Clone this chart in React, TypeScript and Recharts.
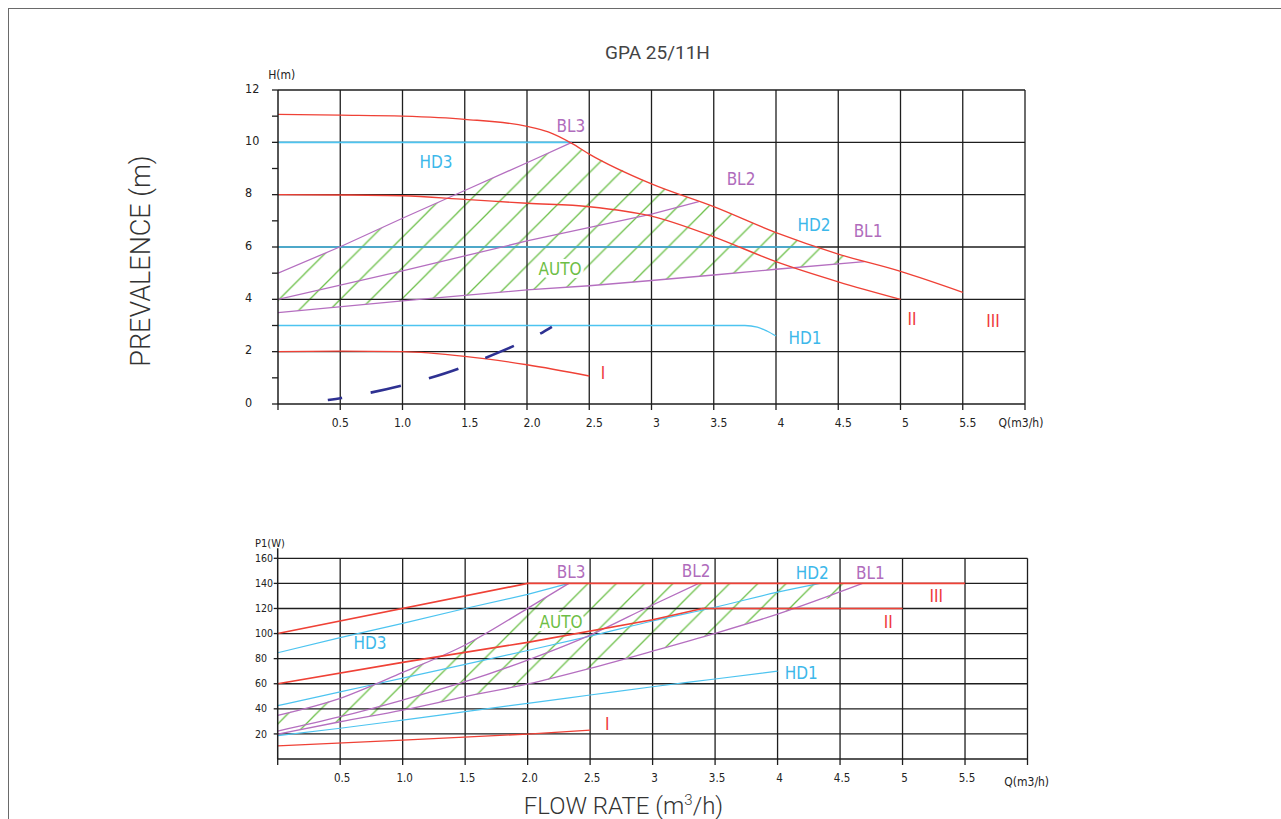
import React from 'react';
import { ComposedChart, Line, Area, XAxis, YAxis, ReferenceLine, ReferenceDot } from 'recharts';

// ---------- axes ----------
const qTicks = [0, 0.5, 1, 1.5, 2, 2.5, 3, 3.5, 4, 4.5, 5, 5.5, 6];
const qTopLabels = ['', '0.5', '1.0', '1.5', '2.0', '2.5', '3', '3.5', '4', '4.5', '5', '5.5', ''];
const qBottomLabels = ['', '0.5', '1.0', '1.5', '2.0', '2.5', '3', '3.5', '4', '4.5', '5', '5.5', ''];
const qGrid = [0.5, 1, 1.5, 2, 2.5, 3, 3.5, 4, 4.5, 5, 5.5, 6];
const hTicks = [0, 1, 2, 3, 4, 5, 6, 7, 8, 9, 10, 11, 12];
const hLabelled = [0, 2, 4, 6, 8, 10, 12];
const hGrid = [2, 4, 6, 8, 10, 12];
const pTicks = [20, 40, 60, 80, 100, 120, 140, 160];
const pGrid = [20, 40, 60, 80, 100, 120, 140, 160];

// ---------- head curves H(m) vs Q ----------
const hIIIq = [0, 0.5, 1, 1.5, 2, 2.17, 2.36, 2.5, 3, 3.5, 4, 4.5, 5, 5.5];
const hIIIv = [11.07, 11.04, 11.0, 10.88, 10.61, 10.4, 9.96, 9.55, 8.41, 7.54, 6.55, 5.73, 5.07, 4.27];
const hIIq = [0, 0.5, 1, 1.5, 2, 2.5, 3, 3.5, 4, 4.5, 5];
const hIIv = [8.0, 7.99, 7.96, 7.82, 7.67, 7.54, 7.18, 6.39, 5.44, 4.67, 4.0];
const hIq = [0, 0.5, 1, 1.5, 2, 2.5];
const hIv = [2.0, 2.02, 2.0, 1.82, 1.5, 1.07];
const hHD3q = [0, 2.36];
const hHD3v = [10, 10];
const hHD2q = [0, 4.33];
const hHD2v = [6, 6];
const hHD1q = [0, 3.75, 3.85, 3.93, 4.0];
const hHD1v = [3.0, 3.0, 2.94, 2.78, 2.6];
const hBL3q = [0, 0.5, 1, 1.5, 2, 2.36];
const hBL3v = [5.0, 6.01, 7.1, 8.16, 9.22, 10.0];
const hBL2q = [0, 1, 2, 3, 3.38];
const hBL2v = [4.0, 5.09, 6.23, 7.26, 7.73];
const hBL1q = [0, 1, 2, 2.5, 3, 3.5, 4, 4.71];
const hBL1v = [3.49, 3.94, 4.36, 4.52, 4.72, 4.93, 5.15, 5.44];
const hNavyQ = [0.4, 0.51, 0.74, 0.98, 1.21, 1.45, 1.66, 1.89, 2.1, 2.2];
const hNavyV = [0.15, 0.23, 0.43, 0.69, 0.98, 1.35, 1.75, 2.21, 2.67, 2.95];
const hAutoQ = [0, 0.5, 1, 1.5, 2, 2.36, 2.5, 3, 3.5, 4, 4.5, 4.71];
const hAutoLow = [3.5, 3.72, 3.94, 4.15, 4.36, 4.49, 4.52, 4.72, 4.93, 5.15, 5.35, 5.44];
const hAutoHigh = [5.0, 6.01, 7.1, 8.16, 9.22, 10.0, 9.55, 8.41, 7.54, 6.55, 5.73, 5.44];

// ---------- power curves P1(W) vs Q ----------
const pIIIq = [0, 2, 5.5];
const pIIIv = [100, 140, 140];
const pIIq = [0, 1, 2, 3, 3.4, 5];
const pIIv = [60, 77, 93, 111, 120, 120];
const pIq = [0, 1, 2, 2.5];
const pIv = [10.4, 15.1, 19.9, 23.1];
const pHD3q = [0, 0.5, 1, 1.5, 2, 2.33];
const pHD3v = [84.7, 96.7, 108.1, 120, 131.2, 140];
const pHD2q = [0, 0.5, 1, 1.5, 2, 2.5, 3, 3.5, 4, 4.34];
const pHD2v = [42.5, 53.5, 64.5, 75.5, 86.5, 98, 110, 121, 133, 140];
const pHD1q = [0, 0.5, 1, 1.5, 2, 2.5, 3, 3.5, 4];
const pHD1v = [18.6, 24.5, 31, 37.7, 44.4, 51, 57.6, 63.8, 70.1];
const pBL3q = [0, 0.5, 1, 1.5, 2, 2.33];
const pBL3v = [34.8, 48.4, 69, 90.9, 120.1, 140];
const pBL2q = [0, 0.5, 1, 1.5, 2, 2.5, 3, 3.37];
const pBL2v = [22.3, 33.7, 47, 61.6, 78.9, 98.8, 122.8, 140];
const pBL1q = [0, 0.5, 1, 1.5, 2, 2.5, 3, 3.5, 4, 4.68];
const pBL1v = [19.9, 29.7, 39, 49.7, 59.8, 72.3, 86, 100.2, 115.5, 140];
const pAutoQ = [0, 0.5, 1, 1.5, 2, 2.33, 2.5, 3, 3.5, 4, 4.5, 4.68];
const pAutoLow = [19.9, 29.7, 39, 49.7, 59.8, 67, 72.3, 86, 100.2, 115.5, 131, 140];
const pAutoHigh = [34.8, 48.4, 69, 90.9, 120.1, 140, 140, 140, 140, 140, 140, 140];

// ---------- curve names ----------
const topNames = [
  { text: 'BL3', q: 2.353, v: 10.62, kind: 'bl' },
  { text: 'HD3', q: 1.269, v: 9.25, kind: 'hd' },
  { text: 'BL2', q: 3.719, v: 8.6, kind: 'bl' },
  { text: 'HD2', q: 4.305, v: 6.84, kind: 'hd' },
  { text: 'BL1', q: 4.739, v: 6.61, kind: 'bl' },
  { text: 'AUTO', q: 2.265, v: 5.16, kind: 'auto' },
  { text: 'HD1', q: 4.233, v: 2.52, kind: 'hd' },
  { text: 'I', q: 2.61, v: 1.18, kind: 'speed' },
  { text: 'II', q: 5.092, v: 3.25, kind: 'speed' },
  { text: 'III', q: 5.743, v: 3.17, kind: 'speed' },
];
const bottomNames = [
  { text: 'BL3', q: 2.348, v: 149.1, kind: 'bl' },
  { text: 'BL2', q: 3.349, v: 149.9, kind: 'bl' },
  { text: 'HD2', q: 4.278, v: 148.3, kind: 'hd' },
  { text: 'BL1', q: 4.742, v: 148.3, kind: 'bl' },
  { text: 'III', q: 5.27, v: 129.9, kind: 'speed' },
  { text: 'II', q: 4.886, v: 109.2, kind: 'speed' },
  { text: 'AUTO', q: 2.268, v: 109.2, kind: 'auto' },
  { text: 'HD3', q: 0.739, v: 92.5, kind: 'hd' },
  { text: 'HD1', q: 4.19, v: 68.6, kind: 'hd' },
  { text: 'I', q: 2.637, v: 27.9, kind: 'speed' },
];

// ---------- styles ----------
const RED = '#EF4136';
const BLUE = '#4DC4F0';
const PURPLE = '#B56FC0';
const GREEN = '#6DC04A';
const NAVY = '#2E3192';
const GRID = '#1e1e1e';
const COND = "'DejaVu Sans Condensed', 'Liberation Sans Narrow', 'DejaVu Sans', sans-serif";
const LABEL_COLORS: Record<string, string> = { bl: '#B06CBC', hd: '#3DB8EA', auto: '#6DBE45', speed: '#EF3B3B' };

const pts = (qs: number[], vs: number[]) => qs.map((q, i) => ({ q, v: vs[i] }));
const band = (qs: number[], lo: number[], hi: number[]) => qs.map((q, i) => ({ q, range: [lo[i], hi[i]] }));

const NameLabel = (item: any) => (p: any) => (
  <text
    x={p.cx}
    y={p.cy}
    textAnchor="middle"
    dominantBaseline="central"
    fontFamily={COND}
    fontSize={17}
    fill={LABEL_COLORS[item.kind]}
    stroke={item.kind === 'auto' ? '#ffffff' : 'none'}
    strokeWidth={item.kind === 'auto' ? 6 : 0}
    strokeLinejoin="round"
    style={{ paintOrder: 'stroke' }}
  >
    {item.text}
  </text>
);

const makeXTick = (labels: string[], yOff: number, shift: (v: number) => number, size: number) => (props: any) => {
  const { x, y, payload } = props;
  const idx = qTicks.indexOf(payload.value);
  const label = idx >= 0 ? labels[idx] : '';
  if (!label) return <g />;
  return (
    <text x={x + shift(payload.value)} y={y + yOff} textAnchor="middle" fontFamily={COND} fontSize={size} fill="#222">
      {label}
    </text>
  );
};

const TopYTick = (props: any) => {
  const { y, payload } = props;
  if (!hLabelled.includes(payload.value)) return <g />;
  return (
    <text x={45} y={y + 2.5} textAnchor="start" fontFamily={COND} fontSize={12.5} fill="#222">
      {payload.value}
    </text>
  );
};

const BottomYTick = (props: any) => {
  const { y, payload } = props;
  return (
    <text x={55} y={y + 3.6} textAnchor="start" fontFamily={COND} fontSize={10.5} fill="#222">
      {payload.value}
    </text>
  );
};

const series = (key: string, d: any[], color: string, width = 1.3, type: any = 'monotone') => (
  <Line
    key={key}
    data={d}
    dataKey="v"
    type={type}
    stroke={color}
    strokeWidth={width}
    dot={false}
    activeDot={false}
    isAnimationActive={false}
  />
);

const TopChart = () => (
  <ComposedChart
    width={900}
    height={400}
    data={band(hAutoQ, hAutoLow, hAutoHigh)}
    margin={{ top: 30, right: 75, bottom: 26, left: 68 }}
  >
    <XAxis
      dataKey="q"
      type="number"
      domain={[0, 6]}
      ticks={qTicks}
      interval={0}
      allowDataOverflow
      height={30}
      tickSize={6}
      axisLine={{ stroke: GRID, strokeWidth: 1.5 }}
      tickLine={{ stroke: GRID, strokeWidth: 1.3 }}
      tick={makeXTick(qTopLabels, 15, (v) => (v >= 1.5 ? 5 : 0), 12)}
    />
    <YAxis
      type="number"
      domain={[0, 12]}
      ticks={hTicks}
      interval={0}
      allowDataOverflow
      width={10}
      tickSize={6}
      axisLine={{ stroke: GRID, strokeWidth: 1.5 }}
      tickLine={{ stroke: GRID, strokeWidth: 1.3 }}
      tick={TopYTick}
    />
    {hGrid.map((v) => (
      <ReferenceLine key={'hg' + v} y={v} stroke={GRID} strokeWidth={1.3} />
    ))}
    {qGrid.map((v) => (
      <ReferenceLine key={'qg' + v} x={v} stroke={GRID} strokeWidth={1.3} />
    ))}
    <Area dataKey="range" type="linear" stroke="none" fill="url(#hatchTop)" fillOpacity={1} isAnimationActive={false} activeDot={false} />
    {series('hd3', pts(hHD3q, hHD3v), BLUE, 1.7, 'linear')}
    {series('hd2', pts(hHD2q, hHD2v), BLUE, 1.7, 'linear')}
    {series('hd1', pts(hHD1q, hHD1v), BLUE, 1.3, 'monotone')}
    {series('bl3', pts(hBL3q, hBL3v), PURPLE, 1.3, 'linear')}
    {series('bl2', pts(hBL2q, hBL2v), PURPLE, 1.3, 'linear')}
    {series('bl1', pts(hBL1q, hBL1v), PURPLE, 1.3, 'linear')}
    {series('iii', pts(hIIIq, hIIIv), RED, 1.3)}
    {series('ii', pts(hIIq, hIIv), RED, 1.4)}
    {series('i', pts(hIq, hIv), RED, 1.3)}
    <Line
      data={pts(hNavyQ, hNavyV)}
      dataKey="v"
      type="monotone"
      stroke={NAVY}
      strokeWidth={2.6}
      strokeDasharray="31 29"
      strokeDashoffset={16.5}
      dot={false}
      activeDot={false}
      isAnimationActive={false}
    />
    {topNames.map((n) => (
      <ReferenceDot key={'tn' + n.text} x={n.q} y={n.v} r={0} ifOverflow="visible" shape={NameLabel(n)} />
    ))}
  </ComposedChart>
);

const BottomChart = () => (
  <ComposedChart
    width={900}
    height={300}
    data={band(pAutoQ, pAutoLow, pAutoHigh)}
    margin={{ top: 38.3, right: 72.5, bottom: 31, left: 67.7 }}
  >
    <XAxis
      dataKey="q"
      type="number"
      domain={[0, 6]}
      ticks={qTicks}
      interval={0}
      allowDataOverflow
      height={30}
      tickSize={6}
      axisLine={{ stroke: GRID, strokeWidth: 1.5 }}
      tickLine={{ stroke: GRID, strokeWidth: 1.3 }}
      tick={makeXTick(qBottomLabels, 15, () => 2, 11.5)}
    />
    <YAxis
      type="number"
      domain={[0, 160]}
      ticks={pTicks}
      interval={0}
      allowDataOverflow
      width={10}
      tickSize={4}
      axisLine={{ stroke: GRID, strokeWidth: 1.5 }}
      tickLine={{ stroke: GRID, strokeWidth: 1.3 }}
      tick={BottomYTick}
    />
    {pGrid.map((v) => (
      <ReferenceLine key={'pg' + v} y={v} stroke={GRID} strokeWidth={1.3} />
    ))}
    {qGrid.map((v) => (
      <ReferenceLine key={'qg' + v} x={v} stroke={GRID} strokeWidth={1.3} />
    ))}
    <ReferenceLine segment={[{ x: 0, y: 160 }, { x: 0, y: 168 }]} ifOverflow="visible" stroke={GRID} strokeWidth={1.5} />
    <Area dataKey="range" type="linear" stroke="none" fill="url(#hatchBottom)" fillOpacity={1} isAnimationActive={false} activeDot={false} />
    {series('hd3', pts(pHD3q, pHD3v), BLUE, 1.2, 'linear')}
    {series('hd2', pts(pHD2q, pHD2v), BLUE, 1.2, 'monotone')}
    {series('hd1', pts(pHD1q, pHD1v), BLUE, 1.2, 'monotone')}
    {series('bl3', pts(pBL3q, pBL3v), PURPLE, 1.3, 'monotone')}
    {series('bl2', pts(pBL2q, pBL2v), PURPLE, 1.3, 'monotone')}
    {series('bl1', pts(pBL1q, pBL1v), PURPLE, 1.3, 'monotone')}
    {series('iii', pts(pIIIq, pIIIv), RED, 1.6, 'linear')}
    {series('ii', pts(pIIq, pIIv), RED, 1.6, 'linear')}
    {series('i', pts(pIq, pIv), RED, 1.3, 'linear')}
    {bottomNames.map((n) => (
      <ReferenceDot key={'bn' + n.text} x={n.q} y={n.v} r={0} ifOverflow="visible" shape={NameLabel(n)} />
    ))}
  </ComposedChart>
);

export default function App() {
  return (
    <div style={{ position: 'fixed', left: 0, top: 0, width: 1281, height: 819, overflow: 'hidden', background: '#fff' }}>
      <div
        style={{
          position: 'absolute',
          left: 8,
          top: 8,
          width: 1400,
          height: 900,
          borderTop: '1px solid #6a6a6a',
          borderLeft: '1px solid #6a6a6a',
        }}
      />
      <svg width={0} height={0} style={{ position: 'absolute' }}>
        <defs>
          <pattern id="hatchTop" patternUnits="userSpaceOnUse" x={12.5} y={0} width={30.6} height={30.6}>
            <path d="M0,30.6 L30.6,0 M-2,2 L2,-2 M28.6,32.6 L32.6,28.6" stroke={GREEN} strokeWidth={1.3} />
          </pattern>
          <pattern id="hatchBottom" patternUnits="userSpaceOnUse" x={27} y={0} width={28.3} height={28.3}>
            <path d="M0,28.3 L28.3,0 M-2,2 L2,-2 M26.3,30.3 L30.3,26.3" stroke={GREEN} strokeWidth={1.3} />
          </pattern>
        </defs>
      </svg>
      <div style={{ position: 'absolute', left: 200, top: 60 }}>
        <TopChart />
      </div>
      <div style={{ position: 'absolute', left: 200, top: 520 }}>
        <BottomChart />
      </div>
      <svg width={1281} height={819} style={{ position: 'absolute', left: 0, top: 0, pointerEvents: 'none' }}>
        <text x={657.5} y={58.5} textAnchor="middle" fontFamily="Roboto, sans-serif" fontSize={19} fill="#444">
          GPA 25/11H
        </text>
        <text
          transform="translate(150,261) rotate(-90)"
          textAnchor="middle"
          fontFamily="Roboto, sans-serif"
          fontWeight={300}
          fontSize={27}
          fill="#333"
        >
          PREVALENCE (m)
        </text>
        <text x={623.5} y={813.5} textAnchor="middle" fontFamily="Roboto, sans-serif" fontWeight={300} fontSize={24} fill="#333">
          FLOW RATE (m
          <tspan fontSize={15} dy={-9}>3</tspan>
          <tspan dy={9}>/h)</tspan>
        </text>
        <text x={281.7} y={79} textAnchor="middle" fontFamily={COND} fontSize={12} fill="#222">H(m)</text>
        <text x={1021} y={427} textAnchor="middle" fontFamily={COND} fontSize={12} fill="#222">Q(m3/h)</text>
        <text x={270} y={546.5} textAnchor="middle" fontFamily={COND} fontSize={11} fill="#222">P1(W)</text>
        <text x={1026.7} y={786} textAnchor="middle" fontFamily={COND} fontSize={12} fill="#222">Q(m3/h)</text>
      </svg>
    </div>
  );
}
